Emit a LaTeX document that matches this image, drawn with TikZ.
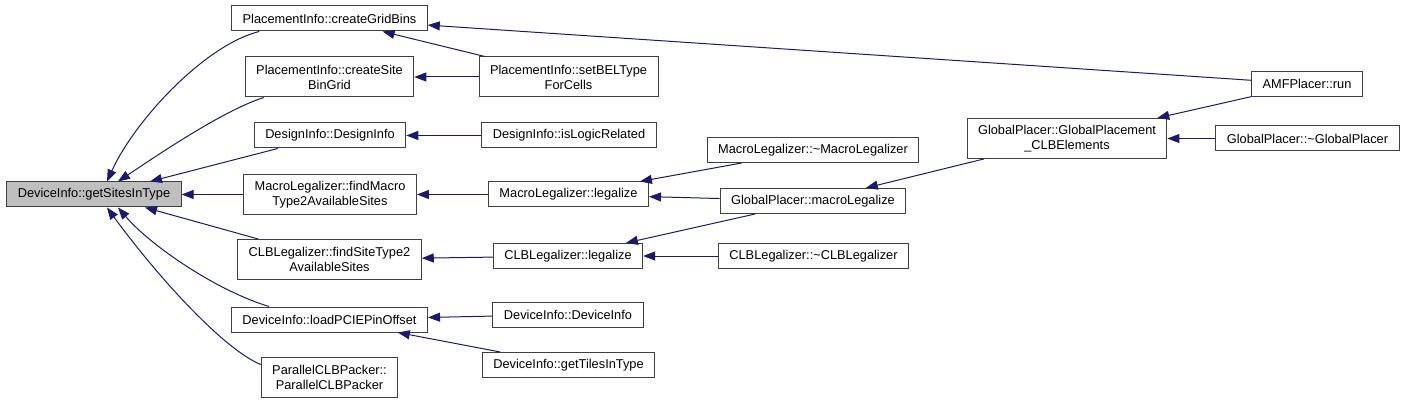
\documentclass[tikz,border=0pt]{standalone}
\usepackage{fontspec}
\setmainfont{Liberation Sans}
\usetikzlibrary{arrows.meta}
\definecolor{callblue}{RGB}{25,25,112}
\definecolor{framegray}{RGB}{64,64,64}
\definecolor{rootgray}{RGB}{191,191,191}
\tikzset{
  fn/.style={draw=framegray, line width=1pt, fill=white, inner xsep=11pt, inner ysep=2pt,
    minimum height=25pt, align=center, font=\fontsize{12.8}{15}\selectfont},
  fntwo/.style={fn, minimum height=40pt},
  root/.style={fn, fill=rootgray},
  call/.style={draw=callblue, line width=1pt, -{Triangle[length=12pt,width=9pt]}},
}
\begin{document}
\begin{tikzpicture}[x=1pt, y=-1pt]
    \useasboundingbox (0,0) rectangle (1404,403);

    % Root
    \node[root] (sites) at (94,194.5) {DeviceInfo::getSitesInType};

    % First column
    \node[fn] (gridbins) at (329.5,18.5) {PlacementInfo::createGridBins};
    \node[fntwo] (sitebin) at (329.5,77) {PlacementInfo::createSite\\BinGrid};
    \node[fn] (design) at (330,135.5) {DesignInfo::DesignInfo};
    \node[fntwo] (findmacro) at (330,194.5) {MacroLegalizer::findMacro\\Type2AvailableSites};
    \node[fntwo] (findsite) at (329.5,259.5) {CLBLegalizer::findSiteType2\\AvailableSites};
    \node[fn] (pcie) at (329.5,319.5) {DeviceInfo::loadPCIEPinOffset};
    \node[fntwo] (packer) at (329.5,377) {ParallelCLBPacker::\\ParallelCLBPacker};

    % Second column
    \node[fntwo] (setbel) at (568.5,77) {PlacementInfo::setBELType\\ForCells};
    \node[fn] (logic) at (569,135.5) {DesignInfo::isLogicRelated};
    \node[fn] (mlegal) at (568.5,194.5) {MacroLegalizer::legalize};
    \node[fn] (clegal) at (568,256) {CLBLegalizer::legalize};
    \node[fn] (devinfo) at (568,314.5) {DeviceInfo::DeviceInfo};
    \node[fn] (tiles) at (568.5,365) {DeviceInfo::getTilesInType};

    % Third column
    \node[fn] (mdtor) at (813,150) {MacroLegalizer::\textasciitilde MacroLegalizer};
    \node[fn] (gmacro) at (813,201) {GlobalPlacer::macroLegalize};
    \node[fn] (cdtor) at (813.5,256) {CLBLegalizer::\textasciitilde CLBLegalizer};

    % Right part
    \node[fntwo] (gpclb) at (1067,138.5) {GlobalPlacer::GlobalPlacement\\\_CLBElements};
    \node[fn] (amf) at (1307,84) {AMFPlacer::run};
    \node[fn] (gdtor) at (1307.5,138.5) {GlobalPlacer::\textasciitilde GlobalPlacer};

    % Calls into the root
    \draw[call] ([xshift=28pt]gridbins.south west) .. controls (205,45) and (135,120) .. ([xshift=13pt]sites.north);
    \draw[call] ([xshift=19pt]sitebin.south west) .. controls (225,110) and (165,150) .. ([xshift=24pt]sites.north);
    \draw[call] ([xshift=24pt]design.south west) -- ([xshift=56pt]sites.north);
    \draw[call] (findmacro) -- (sites);
    \draw[call] ([xshift=21pt]findsite.north west) -- ([xshift=51pt]sites.south);
    \draw[call] ([xshift=38pt]pcie.north west) .. controls (215,290) and (150,245) .. ([xshift=24pt]sites.south);
    \draw[call] ([yshift=-8pt]packer.north west) .. controls (225,350) and (160,280) .. ([xshift=13pt]sites.south);

    % Calls into the first column
    \draw[call] (amf) -- (gridbins);
    \draw[call] (setbel) -- (gridbins);
    \draw[call] (setbel) -- (sitebin);
    \draw[call] (logic) -- (design);
    \draw[call] (mlegal) -- (findmacro);
    \draw[call] (clegal) -- (findsite);
    \draw[call] (devinfo) -- (pcie);
    \draw[call] (tiles) -- (pcie);

    % Calls into the second column
    \draw[call] (mdtor) -- (mlegal);
    \draw[call] (gmacro) -- (mlegal);
    \draw[call] (gmacro) -- (clegal);
    \draw[call] (cdtor) -- (clegal);

    % Calls into the third column
    \draw[call] (gpclb) -- (gmacro);
    \draw[call] (amf) -- (gpclb);
    \draw[call] (gdtor) -- (gpclb);
\end{tikzpicture}
\end{document}
